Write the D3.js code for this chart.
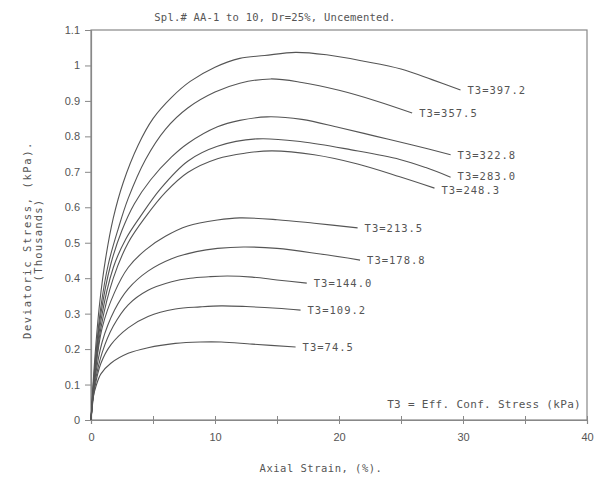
<!DOCTYPE html>
<html>

<head>
    <meta charset="utf-8">
    <style>
        body {
            margin: 0;
            background: #fff;
        }

        svg {
            font-family: 'DejaVu Sans Mono', 'Liberation Mono', monospace;
        }

        text {
            fill: #555;
        }
    </style>
</head>

<body>
    <svg width="611" height="495"></svg>
</body>

<script src="https://d3js.org/d3.v7.min.js"></script>

<script>
    // confining stress labels (kPa), top curve first
    let t3 = ["397.2", "357.5", "322.8", "283.0", "248.3", "213.5", "178.8", "144.0", "109.2", "74.5"]

    // [axial strain %, deviatoric stress (thousands kPa)]
    let s3972 = [[0, 0], [0.3, 0.17], [0.7, 0.33], [1.2, 0.46], [1.8, 0.57], [2.6, 0.67], [3.8, 0.775], [5, 0.85], [6.5, 0.91], [8, 0.955], [10, 0.995], [12, 1.02], [14, 1.028], [16.5, 1.037], [19, 1.03], [22, 1.012], [25, 0.99], [27.5, 0.96], [29.8, 0.931]]
    let s3575 = [[0, 0], [0.3, 0.15], [0.8, 0.32], [1.4, 0.44], [2.2, 0.54], [3.0, 0.625], [4.4, 0.735], [6, 0.82], [7.8, 0.88], [10, 0.925], [12, 0.95], [14.5, 0.962], [17, 0.952], [20, 0.93], [23, 0.9], [25.9, 0.866]]
    let s3228 = [[0, 0], [0.3, 0.14], [0.8, 0.3], [1.6, 0.44], [2.5, 0.535], [3.5, 0.61], [4.8, 0.677], [6.5, 0.742], [7.8, 0.78], [10.2, 0.827], [12, 0.845], [14.2, 0.855], [17, 0.848], [20, 0.825], [23, 0.8], [26, 0.775], [29, 0.748]]
    let s2830 = [[0, 0], [0.3, 0.13], [0.8, 0.28], [1.8, 0.43], [2.8, 0.51], [4.0, 0.575], [5.6, 0.652], [7.8, 0.73], [10.2, 0.772], [13.4, 0.793], [17, 0.785], [21, 0.762], [24.9, 0.735], [27, 0.712], [29, 0.685]]
    let s2483 = [[0, 0], [0.3, 0.12], [0.8, 0.26], [1.8, 0.4], [3.0, 0.5], [4.4, 0.573], [6.0, 0.642], [7.8, 0.698], [10.2, 0.737], [12.5, 0.753], [14.6, 0.759], [18, 0.748], [21.5, 0.722], [24.9, 0.686], [27.7, 0.654]]
    let s2135 = [[0, 0], [0.3, 0.12], [0.9, 0.26], [1.9, 0.36], [3.0, 0.43], [4.4, 0.48], [6.0, 0.518], [7.8, 0.547], [10.2, 0.564], [12, 0.57], [15, 0.565], [18, 0.555], [21.5, 0.542]]
    let s1788 = [[0, 0], [0.3, 0.11], [0.9, 0.22], [1.9, 0.31], [3.0, 0.37], [4.6, 0.42], [6.5, 0.455], [8.5, 0.475], [10.2, 0.484], [12.3, 0.488], [15, 0.484], [18.5, 0.468], [21.7, 0.451]]
    let s1440 = [[0, 0], [0.3, 0.1], [0.9, 0.19], [1.8, 0.265], [3.0, 0.325], [4.6, 0.366], [6.5, 0.39], [8, 0.4], [9.5, 0.404], [11, 0.406], [13, 0.403], [15, 0.395], [17.4, 0.386]]
    let s1092 = [[0, 0], [0.3, 0.09], [0.8, 0.16], [1.6, 0.212], [3.0, 0.26], [4.6, 0.292], [6.8, 0.313], [8.8, 0.319], [10.5, 0.322], [12.5, 0.32], [15, 0.315], [16.9, 0.31]]
    let s745 = [[0, 0], [0.15, 0.06], [0.4, 0.095], [0.8, 0.13], [1.6, 0.16], [3.0, 0.188], [4.6, 0.204], [6.8, 0.216], [8.8, 0.22], [10.5, 0.22], [13, 0.214], [16.5, 0.206]]

    let series = [s3972, s3575, s3228, s2830, s2483, s2135, s1788, s1440, s1092, s745]

    let xTicks = [0, 10, 20, 30, 40]
    let xMinor = [0, 5, 10, 15, 20, 25, 30, 35, 40]
    let yTicks = [0, 0.1, 0.2, 0.3, 0.4, 0.5, 0.6, 0.7, 0.8, 0.9, 1, 1.1]

    let svg = d3.select("svg")
    let mLeft = 91, mRight = 587, mTop = 30, mBottom = 420

    let x = d3.scaleLinear().domain([0, 40]).range([mLeft, mRight])
    let y = d3.scaleLinear().domain([0, 1.1]).range([mBottom, mTop])

    // frame
    svg.append("rect")
        .attr("x", mLeft)
        .attr("y", mTop)
        .attr("width", mRight - mLeft)
        .attr("height", mBottom - mTop)
        .attr("fill", "none")
        .attr("stroke", "#888")
        .attr("stroke-width", 1.2)

    // y axis
    let yAxis = svg.append("g")
        .attr("transform", "translate(" + mLeft + ",0)")
        .call(d3.axisLeft(y).tickValues(yTicks).tickSize(6).tickPadding(5)
            .tickFormat(d => d === 1 ? "1" : d3.format("")(+d.toFixed(1))))
    yAxis.select(".domain").attr("stroke", "#888").attr("stroke-width", 1.2)
    yAxis.selectAll("line").attr("stroke", "#888")
    yAxis.selectAll("text")
        .style("font-size", "11px")
        .attr("fill", "#666")

    // x axis: minor ticks across the line, labels every 10
    let xAxis = svg.append("g")
        .attr("transform", "translate(0," + mBottom + ")")
        .call(d3.axisBottom(x).tickValues(xMinor).tickSize(4).tickPadding(9)
            .tickFormat(d => xTicks.includes(d) ? d : ""))
    xAxis.select(".domain").attr("stroke", "#888").attr("stroke-width", 1.2)
    xAxis.selectAll("line").attr("y1", -4).attr("stroke", "#888")
    xAxis.selectAll("text")
        .style("font-size", "11px")
        .attr("fill", "#666")

    // curves
    let line = d3.line()
        .x(d => x(d[0]))
        .y(d => y(d[1]))
        .curve(d3.curveCatmullRom.alpha(0.5))

    svg.append("g")
        .selectAll("path")
        .data(series)
        .join("path")
        .attr("d", line)
        .attr("fill", "none")
        .attr("stroke", "#555")
        .attr("stroke-width", 1.1)

    // end labels; the 283.0 / 248.3 pair sits tight so nudge them apart a bit
    let nudge = {"283.0": -1.5, "248.3": 1.5}

    svg.append("g")
        .selectAll("text")
        .data(series)
        .join("text")
        .attr("x", d => x(d[d.length - 1][0]) + 7)
        .attr("y", (d, i) => y(d[d.length - 1][1]) + 4 + (nudge[t3[i]] || 0))
        .style("font-size", "10.5px")
        .style("letter-spacing", "1px")
        .text((d, i) => "T3=" + t3[i])

    // titles
    svg.append("text")
        .attr("x", 275)
        .attr("y", 21)
        .attr("text-anchor", "middle")
        .style("font-size", "10.5px")
        .style("letter-spacing", "0.2px")
        .text("Spl.# AA-1 to 10, Dr=25%, Uncemented.")

    svg.append("text")
        .attr("x", 581)
        .attr("y", 408)
        .attr("text-anchor", "end")
        .style("font-size", "11px")
        .style("letter-spacing", "0.3px")
        .text("T3 = Eff. Conf. Stress (kPa)")

    svg.append("text")
        .attr("x", 321)
        .attr("y", 472)
        .attr("text-anchor", "middle")
        .style("font-size", "10.5px")
        .style("letter-spacing", "0.5px")
        .text("Axial Strain, (%).")

    svg.append("text")
        .attr("transform", "translate(31,240) rotate(-90)")
        .attr("text-anchor", "middle")
        .style("font-size", "10.5px")
        .style("letter-spacing", "1.6px")
        .text("Deviatoric Stress, (kPa).")

    svg.append("text")
        .attr("transform", "translate(42,240) rotate(-90)")
        .attr("text-anchor", "middle")
        .style("font-size", "10.5px")
        .style("letter-spacing", "1.2px")
        .text("(Thousands)")
</script>

</html>
